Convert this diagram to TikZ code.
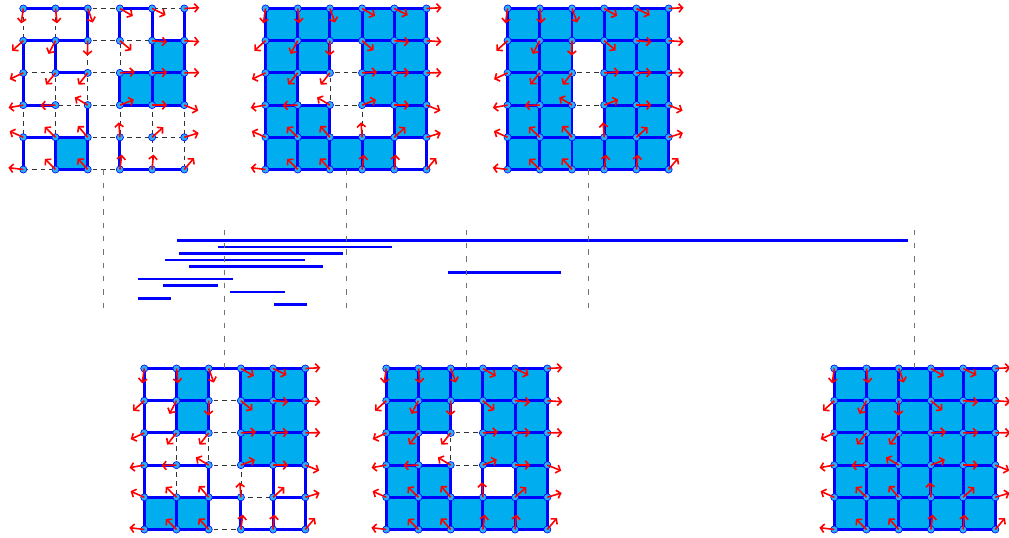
\documentclass[tikz,border=0pt]{standalone}
\usepackage{tikz}
\usetikzlibrary{arrows.meta,calc}
\definecolor{cellcyan}{RGB}{0,174,239}
\definecolor{dotcyan}{RGB}{40,176,245}
\definecolor{edgeblue}{RGB}{0,0,255}
\definecolor{vecred}{RGB}{255,0,0}

\begin{document}
\begin{tikzpicture}[
  x=0.75pt, y=0.75pt,
  edge/.style={draw=edgeblue, line width=2.2pt, line join=round},
  cell/.style={edge, fill=cellcyan},
  gap/.style={draw=black!80, line width=0.6pt, dash pattern=on 3.5pt off 3pt},
  link/.style={draw=black!55, line width=0.75pt, dash pattern=on 4pt off 6pt},
  bar/.style={draw=edgeblue, line width=2pt},
  dot/.style={circle, draw=edgeblue, fill=dotcyan, line width=0.45pt, inner sep=0pt, minimum size=5.4pt},
  vec/.style={draw=vecred, line width=1.2pt, -{Straight Barb[length=2.8pt,width=6.4pt]}}
]
\useasboundingbox (0,0) rectangle (1009,538);

% grid points and the dashed full grid
\foreach \g/\ox/\oy in {a/23.3/8.5, b/265.5/8.5, c/507.6/8.5, d/144.3/368.5, e/386.3/368.5, f/834.3/368.5} {
  \foreach \c in {0,...,5}
    \foreach \r in {0,...,5}
      \coordinate (\g-\c-\r) at ({\ox+32.2*\c}, {538-\oy-32.2*\r});
  \foreach \i in {0,...,5} {
    \draw[gap] (\g-0-\i) -- (\g-5-\i);
    \draw[gap] (\g-\i-0) -- (\g-\i-5);
  }
}

% filled squares: grid / row / columns
\foreach \g/\r/\cols in {a/1/{4}, a/2/{3,4}, a/4/{1},
    b/0/{0,...,4}, b/1/{0,1,3,4}, b/2/{0,3,4}, b/3/{0,1,4}, b/4/{0,1,2,3},
    c/0/{0,...,4}, c/1/{0,1,3,4}, c/2/{0,1,3,4}, c/3/{0,1,3,4}, c/4/{0,...,4},
    d/0/{1,3,4}, d/1/{1,3,4}, d/2/{3,4}, d/4/{0,1},
    e/0/{0,...,4}, e/1/{0,1,3,4}, e/2/{0,3,4}, e/3/{0,1,4}, e/4/{0,...,4},
    f/0/{0,...,4}, f/1/{0,...,4}, f/2/{0,...,4}, f/3/{0,...,4}, f/4/{0,...,4}}
  \foreach \c in \cols
    \path[cell] (\g-\c-\r) rectangle ++(32.2,-32.2);

% edges outside the squares
\draw[edge] (a-0-0) -- (a-2-0) -- (a-2-1);
\draw[edge] (a-3-1) -- (a-3-0) -- (a-4-0) -- (a-4-1);
\draw[edge] (a-5-0) -- (a-5-1);
\draw[edge] (a-1-3) -- (a-0-3) -- (a-0-1) -- (a-2-1);
\draw[edge] (a-1-1) -- (a-1-2) -- (a-2-2);
\draw[edge] (a-2-3) -- (a-2-4);
\draw[edge] (a-0-5) -- (a-0-4) -- (a-1-4);
\draw[edge] (a-3-4) -- (a-3-5) -- (a-5-5);
\draw[edge] (b-5-4) -- (b-5-5) -- (b-4-5);
\draw[edge] (d-0-4) -- (d-0-0) -- (d-1-0);
\draw[edge] (d-2-0) -- (d-3-0);
\draw[edge] (d-0-1) -- (d-1-1);
\draw[edge] (d-0-2) -- (d-1-2);
\draw[edge] (d-0-3) -- (d-2-3) -- (d-2-4) -- (d-3-4);
\draw[edge] (d-3-4) -- (d-3-5) -- (d-5-5) -- (d-5-3);
\draw[edge] (d-4-3) -- (d-4-5);
\draw[edge] (d-4-4) -- (d-5-4);
\draw[edge] (e-3-3) -- (e-3-4);

% vertices and their vectors
\foreach \g in {a,...,f} {
  \foreach \c in {0,...,5}
    \foreach \r in {0,...,5}
      \node[dot] (\g-dot-\c-\r) at (\g-\c-\r) {};
  \foreach \c/\r/\a in {0/0/-98, 1/0/-84, 2/0/-70, 3/0/-30, 4/0/-26, 5/0/3,
      0/1/-138, 1/1/-118, 2/1/-91, 3/1/-40, 4/1/-5, 5/1/-4,
      0/2/-155, 1/2/-129, 2/2/-128, 3/2/4, 4/2/2, 5/2/1,
      0/3/-170, 1/3/-178, 2/3/149, 3/3/21, 4/3/0, 5/3/-22,
      0/4/156, 1/4/136, 2/4/131, 3/4/94, 4/4/42, 5/4/17,
      0/5/173, 1/5/135, 2/5/132, 3/5/83, 4/5/85, 5/5/50}
    \draw[vec] (\g-\c-\r) -- ++(\a:15);
}

% barcode
\foreach \xa/\xb [count=\i from 0] in {177/908, 218/392, 179/343, 165/305, 189/323, 448/561,
    138/233, 163/218, 230/285, 138/171, 274/307}
  \draw[bar] (\xa, {538-240.7-6.4*\i}) -- (\xb, {538-240.7-6.4*\i});

% dashed links to the barcode
\foreach \g/\r/\yy in {a/5/227, b/5/227, c/5/227, d/0/310, e/0/310, f/0/310} {
  \coordinate (\g-mid) at ($(\g-2-\r)!.5!(\g-3-\r)$);
  \coordinate (\g-end) at (\g-mid |- 0,\yy);
  \draw[link] (\g-mid) -- (\g-end);
}
\end{tikzpicture}
\end{document}
